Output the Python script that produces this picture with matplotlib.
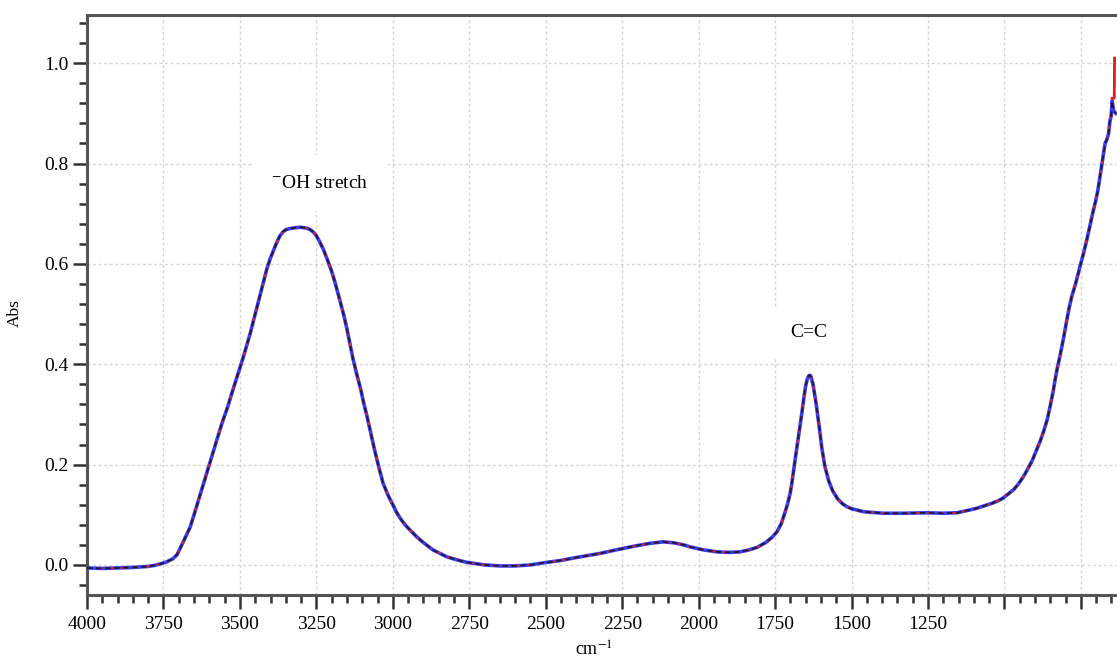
import matplotlib.pyplot as plt
from matplotlib.ticker import MultipleLocator, FuncFormatter

plt.rcParams['font.family'] = ['Liberation Serif', 'DejaVu Serif']
plt.rcParams['mathtext.fontset'] = 'stix'

# FTIR spectrum (wavenumber in cm-1, absorbance)
wavenumber = [4000, 3950, 3900, 3850, 3800, 3780, 3760, 3740, 3720, 3706,
              3690, 3663, 3650, 3630, 3615, 3600, 3575, 3560, 3540, 3525,
              3510, 3490, 3467, 3445, 3424, 3412, 3400, 3380, 3370, 3359,
              3350, 3340, 3320, 3303, 3290, 3280, 3270, 3261, 3250, 3240,
              3228, 3215, 3200, 3190, 3173, 3160, 3150, 3140, 3130, 3118,
              3105, 3095, 3084, 3072, 3060, 3045, 3032, 3015, 3000, 2988,
              2976, 2960, 2940, 2920, 2901, 2869, 2823, 2790, 2757, 2700,
              2649, 2600, 2550, 2509, 2450, 2398, 2360, 2322, 2270, 2214,
              2160, 2116, 2080, 2050, 2028, 1985, 1940, 1900, 1865, 1835,
              1809, 1780, 1760, 1744, 1730, 1718, 1710, 1701, 1696, 1684,
              1676, 1669, 1662, 1656, 1650, 1645, 1640, 1636, 1633, 1626,
              1616, 1605, 1597, 1587, 1575, 1562, 1546, 1530, 1515, 1500,
              1460, 1397, 1330, 1253, 1200, 1155, 1110, 1090, 1070, 1040,
              1020, 1005, 970, 955, 939, 925, 910, 897, 883, 871,
              860, 850, 841, 835, 828, 819, 810, 800, 790, 780,
              770, 762, 753, 741, 730, 720, 710, 702, 695, 688,
              681, 676, 671, 665, 660, 655, 651, 648, 643, 636]
absorb = [-0.006, -0.007, -0.006, -0.005, -0.003, -0.001, 0.002, 0.006, 0.012, 0.020,
          0.040, 0.075, 0.100, 0.140, 0.170, 0.200, 0.250, 0.280, 0.315, 0.345,
          0.374, 0.412, 0.460, 0.512, 0.562, 0.590, 0.612, 0.642, 0.655, 0.664,
          0.668, 0.670, 0.672, 0.673, 0.672, 0.671, 0.668, 0.664, 0.656, 0.645,
          0.630, 0.610, 0.585, 0.565, 0.527, 0.497, 0.470, 0.440, 0.410, 0.380,
          0.350, 0.322, 0.295, 0.262, 0.230, 0.193, 0.163, 0.138, 0.120, 0.105,
          0.093, 0.080, 0.067, 0.055, 0.045, 0.030, 0.016, 0.010, 0.005, 0.000,
          -0.002, -0.002, 0.000, 0.004, 0.009, 0.015, 0.019, 0.023, 0.030, 0.037,
          0.043, 0.046, 0.044, 0.040, 0.036, 0.030, 0.026, 0.025, 0.026, 0.030,
          0.035, 0.045, 0.055, 0.066, 0.082, 0.104, 0.120, 0.142, 0.160, 0.212,
          0.245, 0.275, 0.305, 0.333, 0.357, 0.370, 0.377, 0.378, 0.376, 0.360,
          0.322, 0.272, 0.232, 0.196, 0.168, 0.148, 0.132, 0.122, 0.116, 0.112,
          0.106, 0.103, 0.103, 0.104, 0.103, 0.104, 0.110, 0.113, 0.117, 0.123,
          0.128, 0.133, 0.150, 0.161, 0.175, 0.190, 0.207, 0.226, 0.247, 0.268,
          0.290, 0.318, 0.345, 0.367, 0.390, 0.415, 0.442, 0.475, 0.508, 0.535,
          0.555, 0.573, 0.595, 0.622, 0.650, 0.678, 0.705, 0.725, 0.745, 0.772,
          0.800, 0.820, 0.840, 0.848, 0.858, 0.885, 0.895, 0.925, 0.905, 0.900]

# the red trace spikes up at the very end
red_tail_wn = [648, 641, 640]
red_tail_abs = [0.930, 0.930, 1.010]

red_wn = wavenumber[:-3] + red_tail_wn
red_abs = absorb[:-3] + red_tail_abs

fig = plt.figure(figsize=(11.17, 6.61), dpi=100)
ax = fig.add_axes([0.0779, 0.0998, 0.9221, 0.8775])

ax.plot(wavenumber, absorb, color='#3c3cf0', lw=2.6, zorder=3)
ax.plot(red_wn, red_abs, color='#e02020', lw=1.4, ls=(0, (2, 4)), zorder=4)
ax.plot(red_tail_wn, red_tail_abs, color='#e02020', lw=2.0, zorder=4)
ax.plot(wavenumber, absorb, color='#1a1a3a', lw=1.3, ls=(0, (3, 2)), zorder=5)

ax.set_xlim(4000, 632)
ax.set_ylim(-0.06, 1.096)

ax.xaxis.set_major_locator(MultipleLocator(250))
ax.xaxis.set_minor_locator(MultipleLocator(50))
ax.yaxis.set_major_locator(MultipleLocator(0.2))
ax.yaxis.set_minor_locator(MultipleLocator(0.04))
ax.xaxis.set_major_formatter(FuncFormatter(lambda v, p: '%d' % v if v >= 1250 else ''))
ax.yaxis.set_major_formatter(FuncFormatter(lambda v, p: '%.1f' % v))

ax.grid(True, which='major', color='#d4d4d4', ls=(0, (2, 2)), lw=1.0)
ax.set_axisbelow(True)

for s in ['left', 'top', 'bottom']:
    ax.spines[s].set_color('#555555')
    ax.spines[s].set_linewidth(2.2)
ax.spines['right'].set_visible(False)

ax.tick_params(which='major', direction='out', length=10, width=1.8, color='#333333',
               labelsize=14, pad=3)
ax.tick_params(which='minor', direction='out', length=6, width=1.8, color='#333333')
ax.tick_params(axis='x', pad=5)

ax.set_ylabel('Abs', fontsize=12.5)
ax.yaxis.set_label_coords(-0.062, 0.486)
ax.set_xlabel(r'cm$^{-1}$', fontsize=13, va='center')
ax.xaxis.set_label_coords(0.492, -0.095)

ax.text(3398, 0.761, r'$^{-}$OH stretch', fontsize=14, va='center', ha='left',
        bbox=dict(facecolor='white', edgecolor='none', pad=14), zorder=2)
ax.text(1639, 0.464, 'C=C', fontsize=14, va='center', ha='center',
        bbox=dict(facecolor='white', edgecolor='none', pad=12), zorder=2)

fig.savefig('out.png', dpi=100)
